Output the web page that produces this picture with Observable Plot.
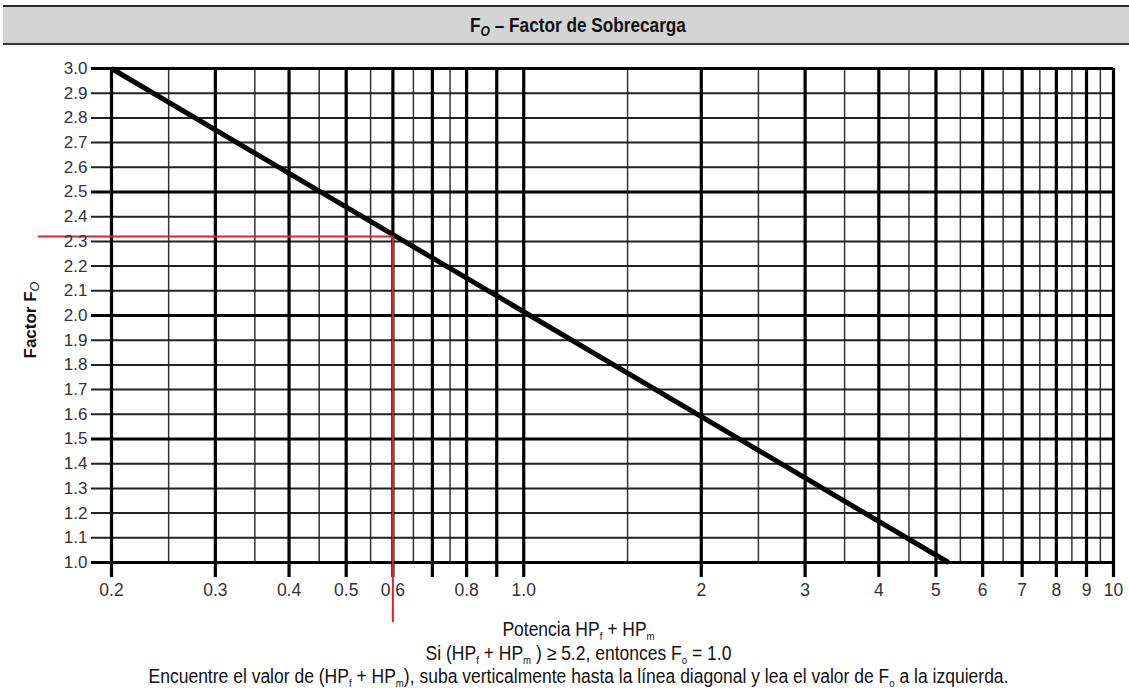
<!DOCTYPE html>
<html>
<head>
<meta charset="utf-8">
<script src="https://cdn.jsdelivr.net/npm/d3@7"></script>
<script src="https://cdn.jsdelivr.net/npm/@observablehq/plot@0.6"></script>
<style>
  html, body { margin: 0; padding: 0; background: #fff; }
  body { position: relative; width: 1129px; height: 690px; overflow: hidden; font-family: "Liberation Sans", Arial, sans-serif; color: #222; }
  #title { position: absolute; left: 3px; top: 5px; width: 1126px; height: 36px; background: #d4d4d4;
           border-top: 2px solid #2a2a2a; border-bottom: 2px solid #3a3a3a; }
  #title .inner { position: absolute; left: 0; top: 0; width: 1150px; text-align: center;
           font-family: "Liberation Sans", Arial, sans-serif; font-weight: bold; font-size: 20px; line-height: 36px; color: #111;
           transform: scaleX(0.86); transform-origin: 50% 50%; }
  #chart { position: absolute; left: 0; top: 45px; }
  #ylabel { position: absolute; left: -69px; top: 310px; width: 200px; height: 20px; line-height: 20px; text-align: center;
            transform: rotate(-90deg); transform-origin: 50% 50%; font-weight: bold; font-size: 17px; color: #111; }
  #caption { position: absolute; left: 14px; top: 618px; width: 1129px; text-align: center;
             font-family: "Liberation Sans", Arial, sans-serif;
             font-size: 20px; line-height: 23.5px; color: #111; transform: scaleX(0.875); transform-origin: 50% 50%; }
  sub { font-size: 0.55em; line-height: 0; vertical-align: -0.35em; }
  #title sub { font-size: 0.7em; font-style: italic; vertical-align: -0.25em; }
  #ylabel sub { font-size: 0.75em; font-weight: normal; font-style: italic; vertical-align: -0.25em; }
</style>
</head>
<body>
<div id="title"><div class="inner">F<sub>O</sub> – Factor de Sobrecarga</div></div>
<div id="chart"></div>
<div id="ylabel">Factor F<sub>O</sub></div>
<div id="caption">
  <div>Potencia HP<sub>f</sub> + HP<sub>m</sub></div>
  <div>Si (HP<sub>f</sub> + HP<sub>m</sub> ) ≥ 5.2, entonces F<sub>o</sub> = 1.0</div>
  <div>Encuentre el valor de (HP<sub>f</sub> + HP<sub>m</sub>), suba verticalmente hasta la línea diagonal y lea el valor de F<sub>o</sub> a la izquierda.</div>
</div>
<script>
// ---- data ----
const majorPower = [0.2, 0.3, 0.4, 0.5, 0.6, 0.7, 0.8, 0.9, 1, 2, 3, 4, 5, 6, 7, 8, 9, 10];
const minorPower = [0.25, 0.35, 0.45, 0.55, 0.65, 0.75, 1.5, 2.5, 3.5, 4.5, 5.5, 6.5, 7.5, 8.5, 9.5];
const powerTicks = [0.2, 0.3, 0.4, 0.5, 0.6, 0.8, 1, 2, 3, 4, 5, 6, 7, 8, 9, 10];
const powerTickLabels = ["0.2", "0.3", "0.4", "0.5", "0.6", "0.8", "1.0", "2", "3", "4", "5", "6", "7", "8", "9", "10"];
const majorFactor = [1.0, 1.5, 2.0, 2.5, 3.0];
const minorFactor = [1.1, 1.2, 1.3, 1.4, 1.6, 1.7, 1.8, 1.9, 2.1, 2.2, 2.3, 2.4, 2.6, 2.7, 2.8, 2.9];
const factorTicks = [1.0, 1.1, 1.2, 1.3, 1.4, 1.5, 1.6, 1.7, 1.8, 1.9, 2.0, 2.1, 2.2, 2.3, 2.4, 2.5, 2.6, 2.7, 2.8, 2.9, 3.0];
const factorTickLabels = ["1.0", "1.1", "1.2", "1.3", "1.4", "1.5", "1.6", "1.7", "1.8", "1.9", "2.0", "2.1", "2.2", "2.3", "2.4", "2.5", "2.6", "2.7", "2.8", "2.9", "3.0"];
const curvePower = [0.2, 5.25];
const curveFactor = [3.0, 1.0];
const examplePower = [0.6];
const exampleFactor = [2.32];

// ---- build ----
const curve = curvePower.map((p, i) => ({power: p, factor: curveFactor[i]}));
const example = examplePower.map((p, i) => ({power: p, factor: exampleFactor[i]}));
const xLabels = powerTicks.map((p, i) => ({power: p, label: powerTickLabels[i]}));
const red = "#e3222d";

const chart = Plot.plot({
  width: 1129,
  height: 580,
  marginTop: 23,
  marginBottom: 63,
  marginLeft: 111,
  marginRight: 16,
  x: {type: "log", domain: [0.2, 10], axis: null},
  y: {type: "linear", domain: [1, 3], axis: null},
  style: {fontFamily: "'Liberation Sans', Arial, sans-serif", fontSize: "17px", color: "#333", background: "transparent"},
  marks: [
    Plot.ruleX(minorPower, {stroke: "#333", strokeWidth: 1.5}),
    Plot.ruleY(minorFactor, {stroke: "#222", strokeWidth: 2, insetLeft: -20}),
    Plot.ruleY(majorFactor, {stroke: "#000", strokeWidth: 3.2, insetLeft: -20}),
    Plot.ruleX(majorPower, {stroke: "#000", strokeWidth: 3.2, insetBottom: -15}),
    Plot.line(curve, {x: "power", y: "factor", stroke: "#000", strokeWidth: 5, strokeLinecap: "butt"}),
    Plot.text(xLabels, {x: "power", text: "label", frameAnchor: "bottom", dy: 33, fontSize: 17.5, fill: "#333"}),
    Plot.ruleX(example, {x: "power", y1: "factor", y2: () => 1, insetBottom: -60, stroke: red, strokeWidth: 2}),
    Plot.ruleY(example, {y: "factor", x1: () => 0.2, x2: "power", insetLeft: -73, stroke: red, strokeWidth: 2}),
    Plot.axisY(factorTicks, {tickSize: 0, tickPadding: 24, label: null, fontSize: 17, fill: "#333",
      tickFormat: d => factorTickLabels[factorTicks.indexOf(d)]})
  ]
});
document.getElementById("chart").appendChild(chart);
</script>
</body>
</html>
